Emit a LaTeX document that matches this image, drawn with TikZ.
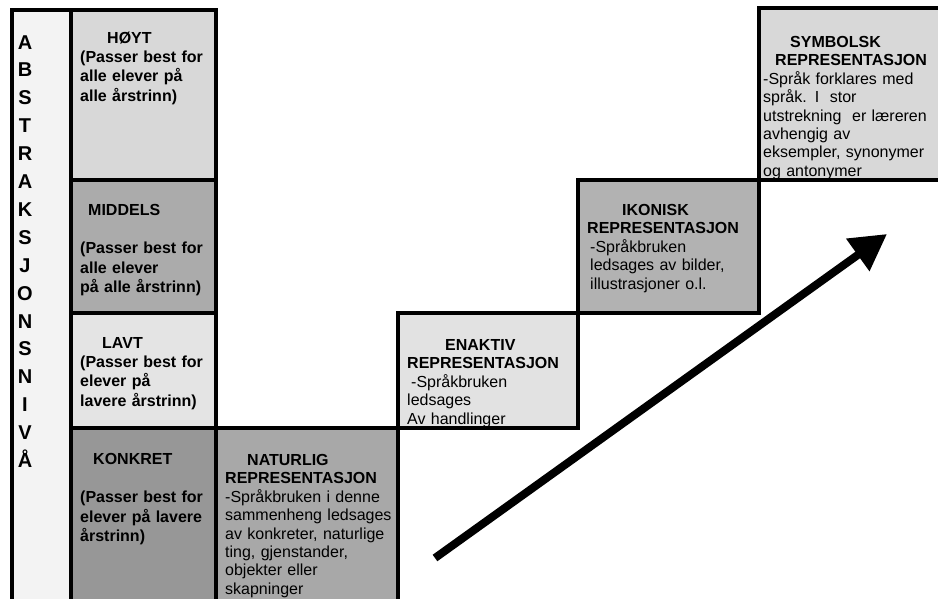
\documentclass[tikz,border=0pt]{standalone}
\usepackage{fontspec}
\setmainfont{Liberation Sans}
\usetikzlibrary{arrows.meta}
\definecolor{cstrip}{HTML}{F3F3F3}
\definecolor{choyt}{HTML}{D8D8D8}
\definecolor{cmid}{HTML}{ABABAB}
\definecolor{clavt}{HTML}{E4E4E4}
\definecolor{ckonk}{HTML}{979797}
\definecolor{cnat}{HTML}{A8A8A8}
\definecolor{cenak}{HTML}{E2E2E2}
\definecolor{cikon}{HTML}{B2B2B2}
\definecolor{csymb}{HTML}{D8D8D8}
\tikzset{
  box/.style={draw=black, line width=3.5pt, rectangle, inner sep=0pt, outer sep=0pt, anchor=north west},
  lefttxt/.style={anchor=base west, inner sep=0pt, text width=140pt, align=left, font=\fontsize{16}{19.2}\selectfont\bfseries},
  righttxt/.style={anchor=base west, inner sep=0pt, text width=200pt, align=left, font=\fontsize{16}{18.4}\selectfont},
  bigarrow/.style={line width=8pt, -{Triangle[length=36pt,width=38pt]}}
}
\begin{document}
\begin{tikzpicture}[x=1pt,y=-1pt]
\useasboundingbox (0,0) rectangle (938,598);
\clip (0,0) rectangle (938,598);
\fill[white] (0,0) rectangle (938,598);
% boxes
\node[box, fill=cstrip, minimum width=59pt, minimum height=600pt] (strip) at (12,10) {};
\node[box, fill=choyt, minimum width=145pt, minimum height=170pt] (hoyt) at (71,10) {};
\node[box, fill=cmid, minimum width=145pt, minimum height=133pt] (middels) at (71,180) {};
\node[box, fill=clavt, minimum width=145pt, minimum height=115pt] (lavt) at (71,313) {};
\node[box, fill=ckonk, minimum width=145pt, minimum height=180pt] (konkret) at (71,428) {};
\node[box, fill=cnat, minimum width=182pt, minimum height=180pt] (naturlig) at (216,428) {};
\node[box, fill=cenak, minimum width=180pt, minimum height=115pt] (enaktiv) at (398,313) {};
\node[box, fill=cikon, minimum width=181pt, minimum height=133pt] (ikonisk) at (578,180) {};
\node[box, fill=csymb, minimum width=190pt, minimum height=172pt] (symbolsk) at (759,8) {};
% vertical word
\node[anchor=base, inner sep=0pt, text width=26pt, align=center, font=\fontsize{20}{27.9}\selectfont\bfseries] (vword) at (25,49)
 {A\\B\\S\\T\\R\\A\\K\\S\\J\\O\\N\\S\\N\\I\\V\\Å};
% left texts
\node[lefttxt] (t-hoyt) at (80,43.5) {\hspace*{27pt}HØYT\\(Passer best for\\alle elever på\\alle årstrinn)};
\node[lefttxt] (t-mid) at (80,215.5) {\hspace*{8pt}MIDDELS\\[19.2pt](Passer best for\\alle elever\\på alle årstrinn)};
\node[lefttxt] (t-lavt) at (80,348.5) {\hspace*{22pt}LAVT\\(Passer best for\\elever på\\lavere årstrinn)};
\node[lefttxt] (t-konk) at (80,464.5) {\hspace*{13pt}KONKRET\\[19.2pt](Passer best for\\elever på lavere\\årstrinn)};
% right texts
\node[righttxt] (t-nat) at (225,465.5) {\hspace*{22pt}\textbf{NATURLIG}\\\textbf{REPRESENTASJON}\\-Språkbruken i denne\\sammenheng ledsages\\av konkreter, naturlige\\ting, gjenstander,\\objekter eller\\skapninger};
\node[righttxt] (t-enak) at (407,350.5) {\hspace*{38pt}\textbf{ENAKTIV}\\\textbf{REPRESENTASJON}\\\hspace*{4pt}-Språkbruken\\ledsages\\Av handlinger};
\node[righttxt] (t-ikon) at (587,215.5) {\hspace*{35pt}\textbf{IKONISK}\\\textbf{REPRESENTASJON}\\\hspace*{3pt}-Språkbruken\\\hspace*{3pt}ledsages av bilder,\\\hspace*{3pt}illustrasjoner o.l.};
\node[righttxt] (t-symb) at (763,47.5) {\hspace*{27pt}\textbf{SYMBOLSK}\\\hspace*{12pt}\textbf{REPRESENTASJON}\\-Språk forklares med\\språk. I~ stor\\utstrekning~ er læreren\\avhengig av\\eksempler, synonymer\\og antonymer};
% arrow
\coordinate (a0) at (435,558);
\coordinate (a1) at (887,234);
\draw[bigarrow] (a0) -- (a1);
\end{tikzpicture}
\end{document}
